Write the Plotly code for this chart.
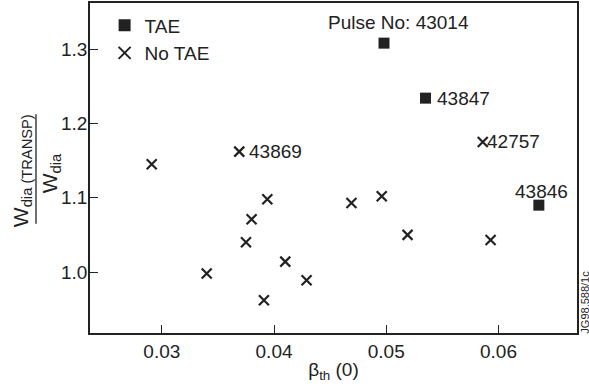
import plotly.graph_objects as go

# Central thermal beta and TRANSP / diamagnetic stored-energy ratio
tae_beta = [0.0498, 0.0535, 0.0636]
tae_ratio = [1.308, 1.234, 1.090]
tae_pulse = ["Pulse No: 43014", "43847", "43846"]

notae_beta = [0.0291, 0.0369, 0.0586, 0.0394, 0.0380, 0.0375, 0.0410,
              0.0340, 0.0429, 0.0391, 0.0469, 0.0496, 0.0519, 0.0593]
notae_ratio = [1.145, 1.162, 1.175, 1.098, 1.071, 1.040, 1.014,
               0.998, 0.989, 0.962, 1.093, 1.102, 1.050, 1.043]
notae_pulse = ["", "43869", "42757", "", "", "", "", "", "", "", "", "", "", ""]

x_ticks = [0.03, 0.04, 0.05, 0.06]
y_ticks = [1.0, 1.1, 1.2, 1.3]

INK = "#222222"
FONT = "Liberation Sans, Arial, sans-serif"
FS = 19

fig = go.Figure()
fig.add_trace(go.Scatter(
    x=tae_beta, y=tae_ratio, mode="markers", name="TAE",
    marker=dict(symbol="square", size=11, color=INK, line=dict(width=0)),
))
fig.add_trace(go.Scatter(
    x=notae_beta, y=notae_ratio, mode="markers", name="No TAE",
    marker=dict(symbol="x-thin", size=10, color=INK, line=dict(width=2.2, color=INK)),
))

# Pulse number labels beside selected points
label_offsets = {
    "Pulse No: 43014": dict(xanchor="center", yanchor="middle", xshift=14, yshift=21),
    "43847": dict(xanchor="left", yanchor="middle", xshift=9, yshift=0),
    "43846": dict(xanchor="center", yanchor="middle", xshift=3, yshift=14),
    "43869": dict(xanchor="left", yanchor="middle", xshift=8, yshift=0),
    "42757": dict(xanchor="left", yanchor="middle", xshift=2, yshift=0),
}
for xs, ys, names in ((tae_beta, tae_ratio, tae_pulse), (notae_beta, notae_ratio, notae_pulse)):
    for xv, yv, name in zip(xs, ys, names):
        if not name:
            continue
        fig.add_annotation(x=xv, y=yv, xref="x", yref="y", text=name, showarrow=False,
                           font=dict(size=FS, color=INK, family=FONT), **label_offsets[name])

# Y axis title drawn as a fraction
fig.add_annotation(xref="paper", yref="paper", x=-0.140, y=0.493, xanchor="center", yanchor="middle",
                   text="W<sub>dia (TRANSP)</sub>", textangle=-90, showarrow=False,
                   font=dict(size=21, color=INK, family=FONT))
fig.add_annotation(xref="paper", yref="paper", x=-0.080, y=0.484, xanchor="center", yanchor="middle",
                   text="W<sub>dia</sub>", textangle=-90, showarrow=False,
                   font=dict(size=21, color=INK, family=FONT))
fig.add_shape(type="line", xref="paper", yref="paper", x0=-0.1109, x1=-0.1109,
              y0=0.3313, y1=0.6627, line=dict(color=INK, width=1.3))

# Figure reference tag
fig.add_annotation(xref="paper", yref="paper", x=1.0164, y=0.095, xanchor="center", yanchor="middle",
                   text="JG98.588/1c", textangle=-90, showarrow=False,
                   font=dict(size=11, color=INK, family=FONT))

axis_common = dict(
    showgrid=False, zeroline=False, showline=True, mirror=True,
    linecolor=INK, linewidth=1.5, ticks="inside", ticklen=8, tickwidth=1.2,
    tickcolor=INK, tickfont=dict(size=FS, color=INK, family=FONT),
)
fig.update_xaxes(range=[0.0236, 0.0670], tickvals=x_ticks, ticktext=["0.03", "0.04", "0.05", "0.06"],
                 title=dict(text="β<sub>th</sub> (0)", font=dict(size=FS, color=INK, family=FONT), standoff=2),
                 **axis_common)
fig.update_yaxes(range=[0.918, 1.362], tickvals=y_ticks, ticktext=["1.0", "1.1", "1.2", "1.3"],
                 ticklabelstandoff=-3, **axis_common)

fig.update_layout(
    width=589, height=389,
    margin=dict(l=90, r=12, t=1, b=56),
    paper_bgcolor="white", plot_bgcolor="white",
    font=dict(family=FONT, color=INK, size=FS),
    showlegend=True,
    legend=dict(x=0.03, y=0.99, xanchor="left", yanchor="top", bgcolor="rgba(0,0,0,0)",
                font=dict(size=FS, color=INK, family=FONT), tracegroupgap=0, itemsizing="constant"),
)

fig.write_html("out.html")
